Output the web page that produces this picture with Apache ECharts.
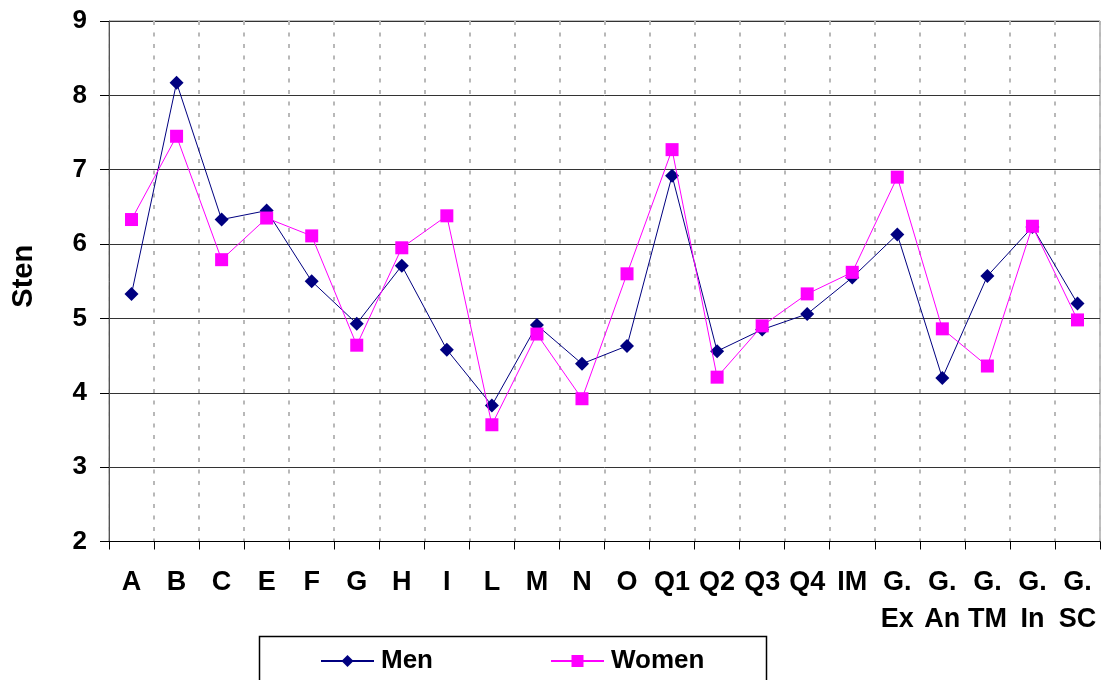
<!DOCTYPE html>
<html>
<head>
<meta charset="utf-8">
<script src="https://cdn.jsdelivr.net/npm/echarts@6/dist/echarts.min.js"></script>
<style>
html,body{margin:0;padding:0;background:#fff;}
#chart{width:1106px;height:680px;}
</style>
</head>
<body>
<div id="chart"></div>
<script>
var categories = ['A','B','C','E','F','G','H','I','L','M','N','O','Q1','Q2','Q3','Q4','IM','G.\nEx','G.\nAn','G.\nTM','G.\nIn','G.\nSC'];
var men   = [5.33, 8.17, 6.33, 6.45, 5.50, 4.93, 5.71, 4.58, 3.83, 4.91, 4.39, 4.63, 6.92, 4.56, 4.85, 5.06, 5.55, 6.13, 4.20, 5.57, 6.23, 5.20];
var women = [6.33, 7.45, 5.79, 6.35, 6.11, 4.64, 5.95, 6.38, 3.57, 4.79, 3.92, 5.60, 7.27, 4.21, 4.90, 5.33, 5.62, 6.90, 4.86, 4.36, 6.24, 4.98];
var yTicks = {min: 2, max: 9, step: 1};
var yName = 'Sten';
var seriesNames = ['Men', 'Women'];

var FONT = '"Liberation Sans", Arial, sans-serif';
var chart = echarts.init(document.getElementById('chart'), null, {renderer: 'canvas'});
chart.setOption({
  animation: false,
  backgroundColor: '#fff',
  grid: {left: 109, right: 6, top: 21, bottom: 138.5, containLabel: false, outerBoundsMode: 'none',
         show: true, borderColor: '#808080', borderWidth: 1, backgroundColor: 'transparent'},
  xAxis: {
    type: 'category',
    data: categories,
    boundaryGap: true,
    axisLine: {show: true, lineStyle: {color: '#000', width: 1}},
    axisTick: {show: true, length: 8, inside: false, lineStyle: {color: '#000', width: 1}},
    splitLine: {show: true, lineStyle: {color: '#b8b8b8', type: [4, 7.5], width: 2}},
    axisLabel: {interval: 0, margin: 23, color: '#000', fontFamily: FONT, fontWeight: 'bold', fontSize: 27, lineHeight: 37}
  },
  yAxis: {
    type: 'value',
    min: yTicks.min, max: yTicks.max, interval: yTicks.step,
    name: yName, nameLocation: 'middle', nameGap: 71, nameRotate: 90,
    nameTextStyle: {color: '#000', fontFamily: FONT, fontWeight: 'bold', fontSize: 29, padding: [0, 0, 0, 10]},
    axisLine: {show: true, lineStyle: {color: '#555', width: 1}},
    axisTick: {show: true, length: 9, lineStyle: {color: '#000', width: 1}},
    splitLine: {show: true, lineStyle: {color: '#333', width: 1}},
    axisLabel: {margin: 22, color: '#000', fontFamily: FONT, fontWeight: 'bold', fontSize: 26}
  },
  legend: [
    {data: [seriesNames[0]], left: 320, top: 646, padding: 0, itemWidth: 53, itemHeight: 15, itemGap: 0,
     textStyle: {color: '#000', fontFamily: FONT, fontWeight: 'bold', fontSize: 26, lineHeight: 30, padding: [0,0,0,2]}},
    {data: [seriesNames[1]], left: 550, top: 646, padding: 0, itemWidth: 53, itemHeight: 15, itemGap: 0,
     textStyle: {color: '#000', fontFamily: FONT, fontWeight: 'bold', fontSize: 26, lineHeight: 30, padding: [0,0,0,2]}}
  ],
  graphic: [{
    type: 'rect', silent: true,
    shape: {x: 259.5, y: 636.5, width: 507, height: 60},
    style: {fill: 'none', stroke: '#000', lineWidth: 1.5}
  }],
  series: [
    {name: seriesNames[0], type: 'line', data: men, symbol: 'diamond', symbolSize: 14,
     itemStyle: {color: '#000080'}, lineStyle: {color: '#000080', width: 1}, z: 3},
    {name: seriesNames[1], type: 'line', data: women, symbol: 'rect', symbolSize: 13,
     itemStyle: {color: '#ff00ff'}, lineStyle: {color: '#ff00ff', width: 1}, z: 4}
  ]
});
</script>
</body>
</html>
